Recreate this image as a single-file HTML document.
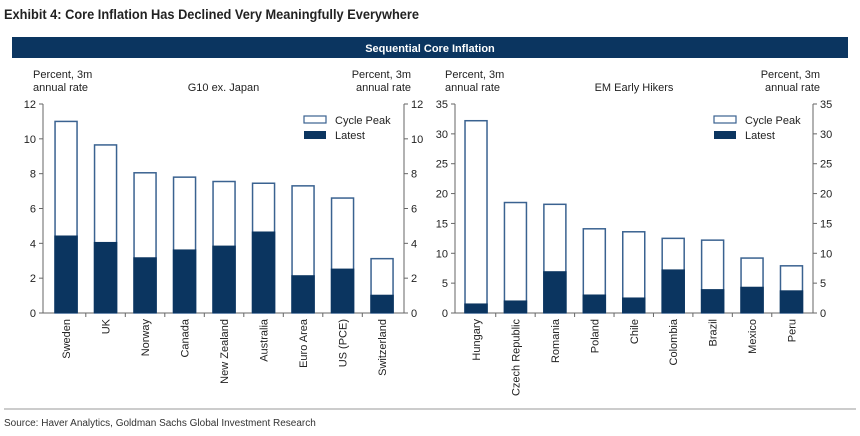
<!DOCTYPE html>
<html><head><meta charset="utf-8"><style>
html,body{margin:0;padding:0;background:#fff;}
svg{display:block;font-family:"Liberation Sans",Arial,sans-serif;}
</style></head><body>
<svg id="root" width="860" height="436" viewBox="0 0 860 436">
<text x="4" y="19" font-size="14" font-weight="bold" fill="#222" textLength="415" lengthAdjust="spacingAndGlyphs">Exhibit 4: Core Inflation Has Declined Very Meaningfully Everywhere</text>
<rect x="12" y="37" width="836" height="21" fill="#0b3560"/>
<text x="430" y="52" font-size="11" font-weight="bold" fill="#fff" text-anchor="middle">Sequential Core Inflation</text>
<g id="c1"></g>
<g id="c2"></g>
<line x1="4" y1="409" x2="856" y2="409" stroke="#999" stroke-width="1"/>
<text x="4" y="426" font-size="10" fill="#333">Source: Haver Analytics, Goldman Sachs Global Investment Research</text>
</svg>
<script>
const g10Categories=["Sweden","UK","Norway","Canada","New Zealand","Australia","Euro Area","US (PCE)","Switzerland"];
const g10Peak=[11.0,9.65,8.05,7.8,7.55,7.45,7.3,6.6,3.12];
const g10Latest=[4.45,4.08,3.2,3.65,3.87,4.68,2.17,2.55,1.05];
const g10Ticks=[0,2,4,6,8,10,12];
const emCategories=["Hungary","Czech Republic","Romania","Poland","Chile","Colombia","Brazil","Mexico","Peru"];
const emPeak=[32.2,18.5,18.2,14.1,13.6,12.5,12.2,9.2,7.9];
const emLatest=[1.6,2.1,7.0,3.1,2.6,7.3,4.0,4.4,3.8];
const emTicks=[0,5,10,15,20,25,30,35];
const NS="http://www.w3.org/2000/svg";
function mk(parent,tag,attrs,text){const e=document.createElementNS(NS,tag);for(const k in attrs)e.setAttribute(k,attrs[k]);if(text!==undefined)e.textContent=text;parent.appendChild(e);return e;}
function chart(g,cfg){
  const {x0,x1,b0,b1,y0,y1,max,cats,peak,latest,ticks,title,legX,barW}=cfg;
  const ys=v=>y0-(v/max)*(y0-y1);
  const bw=(b1-b0)/cats.length;
  const xs=i=>b0+bw*(i+0.5);
  let a=mk(g,'line',{x1:x0,y1:y1,x2:x0,y2:y0,stroke:'#666'});
  
  
  a=mk(g,'line',{x1:x1,y1:y1,x2:x1,y2:y0,stroke:'#666'});
  
  
  a=mk(g,'line',{x1:x0,y1:y0,x2:x1,y2:y0,stroke:'#666'});
  
  
  ticks.forEach(t=>{
    const y=ys(t);
    mk(g,'line',{x1:x0-4,y1:y,x2:x0,y2:y,stroke:'#666'});
    mk(g,'line',{x1:x1,y1:y,x2:x1+4,y2:y,stroke:'#666'});
    let l=mk(g,'text',{x:x0-7,y:y+4,'font-size':11,'text-anchor':'end',fill:'#222'},t);
    
    
    l=mk(g,'text',{x:x1+7,y:y+4,'font-size':11,fill:'#222'},t);
    
    
  });
  for(let i=1;i<cats.length;i++){mk(g,'line',{x1:b0+bw*i,y1:y0,x2:b0+bw*i,y2:y0+4,stroke:'#666'});}
  cats.forEach((c,i)=>{
    const cx=xs(i);
    let r=mk(g,'rect',{x:cx-barW/2,y:ys(peak[i]),width:barW,height:y0-ys(peak[i]),fill:'#fff',stroke:'#3a6290','stroke-width':1.5});
    
    
    r=mk(g,'rect',{x:cx-barW/2-0.75,y:ys(latest[i]),width:barW+1.5,height:y0-ys(latest[i]),fill:'#0b3560'});
    
    
    const t=mk(g,'text',{x:0,y:0,'font-size':11,fill:'#222','text-anchor':'end',transform:`translate(${cx+4},${y0+6}) rotate(-90)`},c);
    
    
  });
  let t=mk(g,'text',{x:x0-10,y:y1-26,'font-size':11,fill:'#222'},'Percent, 3m');
  
  
  mk(g,'text',{x:x0-10,y:y1-13,'font-size':11,fill:'#222'},'annual rate');
  t=mk(g,'text',{x:x1+7,y:y1-26,'font-size':11,fill:'#222','text-anchor':'end'},'Percent, 3m');
  
  
  mk(g,'text',{x:x1+7,y:y1-13,'font-size':11,fill:'#222','text-anchor':'end'},'annual rate');
  t=mk(g,'text',{x:(x0+x1)/2,y:y1-13,'font-size':11,fill:'#222','text-anchor':'middle'},title);
  
  
  let lg=mk(g,'rect',{x:legX,y:116,width:22,height:7,fill:'#fff',stroke:'#3a6290','stroke-width':1.2});
  
  
  mk(g,'text',{x:legX+31,y:124,'font-size':11,fill:'#222'},'Cycle Peak');
  lg=mk(g,'rect',{x:legX,y:131,width:22,height:8,fill:'#0b3560'});
  
  
  mk(g,'text',{x:legX+31,y:139,'font-size':11,fill:'#222'},'Latest');
}
chart(document.getElementById('c1'),{x0:43,x1:404,b0:46.3,b1:401.8,y0:313,y1:104,max:12,cats:g10Categories,peak:g10Peak,latest:g10Latest,ticks:g10Ticks,title:'G10 ex. Japan',legX:304,barW:22});
chart(document.getElementById('c2'),{x0:455,x1:813,b0:456.3,b1:811.2,y0:313,y1:104,max:35,cats:emCategories,peak:emPeak,latest:emLatest,ticks:emTicks,title:'EM Early Hikers',legX:714,barW:22});
</script>
</body></html>
